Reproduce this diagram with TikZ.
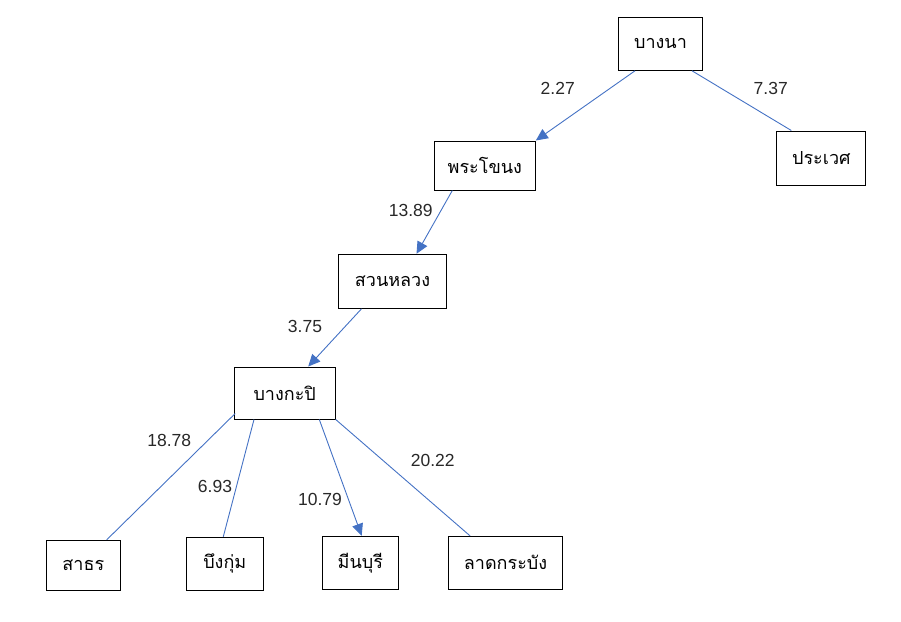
\documentclass[tikz,border=0pt]{standalone}
\usepackage{fontspec}
\setmainfont{Liberation Sans}
\newfontfamily\thaifont[Script=Thai]{Loma}
\usepackage{xcolor}
\usepackage{tikz}
\usetikzlibrary{positioning, calc}
\usetikzlibrary{arrows.meta}
\definecolor{linkblue}{RGB}{68,114,196}
\definecolor{numgray}{RGB}{40,40,40}

\begin{document}
\begin{tikzpicture}[x=1pt, y=-1pt]
        \tikzset{box/.style = {draw, line width=1pt, inner sep=0pt, font=\thaifont\fontsize{18}{21}\selectfont}}
        \tikzset{link/.style = {linkblue, line width=0.9pt}}
        \tikzset{arr/.style = {link, -{Triangle[length=12pt,width=11pt]}}}
        \tikzset{num/.style = {numgray, font=\fontsize{17.5}{20}\selectfont}}

        \useasboundingbox (0,0) rectangle (901,621);

        \node[box, minimum width=84pt, minimum height=53pt] (bangna) at (660.5,43.8) {บางนา};
        \node[box, minimum width=89pt, minimum height=54pt] (prawet) at (821.3,158) {ประเวศ};
        \node[box, minimum width=101pt, minimum height=49pt] (phrakhanong) at (484.8,165.5) {พระโขนง};
        \node[box, minimum width=108pt, minimum height=54pt] (suanluang) at (392.5,281.3) {สวนหลวง};
        \node[box, minimum width=101pt, minimum height=52pt] (bangkapi) at (284.7,393) {บางกะปิ};
        \node[box, minimum width=74pt, minimum height=50pt] (sathon) at (83.3,565.3) {สาธร};
        \node[box, minimum width=77pt, minimum height=53pt] (buengkum) at (224.8,563.7) {บึงกุ่ม};
        \node[box, minimum width=76pt, minimum height=53pt] (minburi) at (360.3,562.8) {มีนบุรี};
        \node[box, minimum width=114pt, minimum height=53pt] (latkrabang) at (505.5,562.8) {ลาดกระบัง};

        % distances
        \node[num] (d1) at (557.7,88.3) {2.27};
        \node[num] (d2) at (770.7,88.3) {7.37};
        \node[num] (d3) at (410.7,210) {13.89};
        \node[num] (d4) at (305,326.7) {3.75};
        \node[num] (d5) at (169.3,440.7) {18.78};
        \node[num] (d6) at (215,486) {6.93};
        \node[num] (d7) at (320,499.3) {10.79};
        \node[num] (d8) at (432.7,460) {20.22};

        % links
        \draw[arr] ($(bangna.south)+(-25.5,0)$) -- (phrakhanong.north east);
        \draw[link] ($(bangna.south)+(31.5,0)$) -- ($(prawet.north)+(-30,0)$);
        \draw[arr] ($(phrakhanong.south)+(-32.5,0)$) -- ($(suanluang.north)+(24,0)$);
        \draw[arr] ($(suanluang.south)+(-31,0)$) -- ($(bangkapi.north)+(23.5,0)$);
        \draw[link] ($(bangkapi.south west)+(1.5,-6)$) -- ($(sathon.north)+(23.4,0)$);
        \draw[link] ($(bangkapi.south)+(-30.7,0)$) -- ($(buengkum.north)+(-1.5,0)$);
        \draw[arr] ($(bangkapi.south)+(34.6,0)$) -- ($(minburi.north)+(1.4,0)$);
        \draw[link] (bangkapi.south east) -- ($(latkrabang.north)+(-35.5,0)$);

    \end{tikzpicture}
\end{document}
